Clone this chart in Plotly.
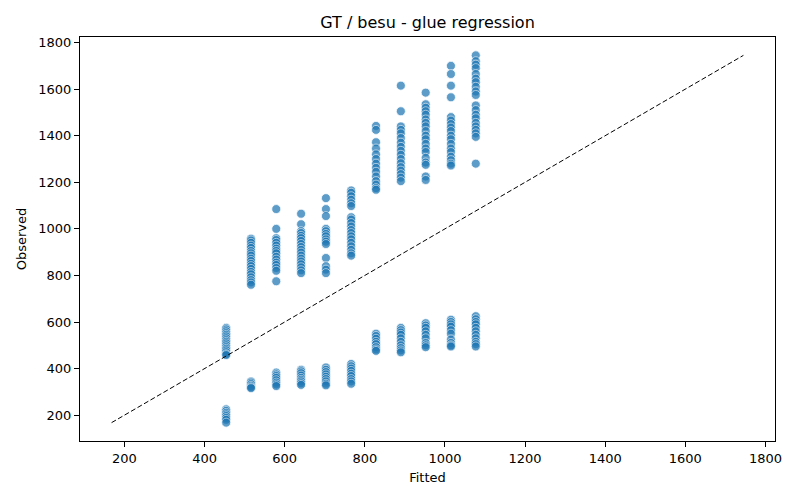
import plotly.graph_objects as go

# Fitted levels (x) and observed values (y) per fitted level
fitted_levels = [454, 516, 579, 641, 703, 766, 828, 890, 952, 1015, 1077]

obs_454 = [575, 568, 560, 552, 545, 538, 530, 522, 515, 508, 500, 492, 485, 478, 470, 462, 458,
           225, 218, 210, 203, 196, 188, 180, 168]
obs_516 = [958, 950, 940, 928, 918, 905, 895, 885, 872, 862, 850, 840, 828, 815, 805, 792, 780, 770, 760,
           345, 340, 333, 326, 320, 316]
obs_579 = [1085, 1000, 960, 952, 940, 928, 915, 905, 895, 880, 868, 855, 845, 832, 820, 775,
           383, 375, 368, 360, 350, 340, 332, 325]
obs_641 = [1065, 1020, 990, 982, 970, 960, 948, 935, 922, 910, 898, 885, 872, 860, 848, 835, 822, 810,
           395, 388, 380, 370, 360, 352, 345, 337, 330]
obs_703 = [1132, 1085, 1055, 1000, 990, 978, 968, 955, 945, 935, 875, 840, 825, 810,
           405, 395, 385, 375, 365, 355, 345, 335, 328]
obs_766 = [1165, 1155, 1140, 1125, 1110, 1098, 1050, 1040, 1025, 1010, 995, 982, 968, 955, 940, 925, 910, 895, 885,
           420, 410, 400, 390, 378, 368, 355, 345, 335]
obs_828 = [1442, 1425, 1372, 1345, 1320, 1300, 1280, 1262, 1245, 1225, 1205, 1190, 1175, 1168,
           550, 540, 528, 515, 505, 492, 482, 476]
obs_890 = [1615, 1505, 1440, 1425, 1410, 1390, 1370, 1352, 1335, 1318, 1300, 1282, 1265, 1250, 1235, 1220, 1205,
           575, 565, 555, 545, 530, 515, 500, 488, 478, 470]
obs_952 = [1585, 1535, 1520, 1505, 1490, 1470, 1455, 1440, 1420, 1400, 1385, 1365, 1345, 1330, 1305, 1285, 1275, 1225, 1210,
           595, 585, 575, 560, 545, 530, 510, 500, 492]
obs_1015 = [1700, 1665, 1615, 1565, 1480, 1465, 1450, 1435, 1420, 1400, 1385, 1365, 1345, 1330, 1310, 1295, 1280, 1272,
            610, 600, 590, 580, 565, 550, 525, 510, 500, 495]
obs_1077 = [1745, 1720, 1705, 1690, 1665, 1645, 1630, 1610, 1590, 1575, 1530, 1510, 1490, 1475, 1455, 1440, 1425, 1410, 1395, 1280,
            625, 612, 600, 590, 575, 560, 545, 530, 515, 505, 495]

observed_groups = [obs_454, obs_516, obs_579, obs_641, obs_703, obs_766,
                   obs_828, obs_890, obs_952, obs_1015, obs_1077]

x_tick_vals = [200, 400, 600, 800, 1000, 1200, 1400, 1600, 1800]
y_tick_vals = [200, 400, 600, 800, 1000, 1200, 1400, 1600, 1800]

xs, ys = [], []
for f, obs in zip(fitted_levels, observed_groups):
    for o in obs:
        xs.append(f)
        ys.append(o)

lo = min(min(xs), min(ys))
hi = max(max(xs), max(ys))
pad = 0.05 * (hi - lo)
rng = [lo - pad, hi + pad]

fig = go.Figure()
fig.add_trace(go.Scatter(
    x=xs, y=ys, mode="markers",
    marker=dict(size=9, color="#1f77b4", opacity=0.72,
                line=dict(color="white", width=0.75)),
    showlegend=False, hoverinfo="x+y"))
fig.add_trace(go.Scatter(
    x=[lo, hi], y=[lo, hi], mode="lines",
    line=dict(color="black", width=1, dash="5px,2.5px"),
    showlegend=False, hoverinfo="skip"))

font_family = "DejaVu Sans"
axis_common = dict(
    showgrid=False, zeroline=False, showline=True, linecolor="black",
    linewidth=1, mirror=True, ticks="outside", ticklen=5, tickwidth=1,
    tickcolor="black", tickfont=dict(family=font_family, size=13, color="black"),
    range=rng,
)
fig.update_layout(
    width=800, height=500,
    margin=dict(l=72, r=33, t=29, b=67),
    paper_bgcolor="white", plot_bgcolor="white",
    title=dict(text="GT / besu - glue regression", x=(72 + 767) / 2 / 800, xanchor="center",
               y=1 - 14 / 500, yanchor="middle",
               font=dict(family=font_family, size=16, color="black")),
    xaxis=dict(title=dict(text="Fitted", font=dict(family=font_family, size=13, color="black"), standoff=8),
               tickvals=x_tick_vals, **axis_common),
    yaxis=dict(title=dict(text="Observed", font=dict(family=font_family, size=13, color="black"), standoff=8),
               tickvals=y_tick_vals, **axis_common),
)

fig.write_html("out.html")
